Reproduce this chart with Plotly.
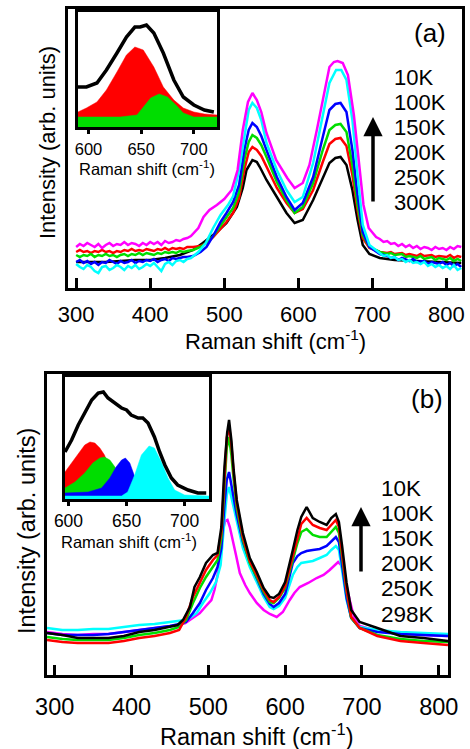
import plotly.graph_objects as go

# ---------------- Panel (a) data (arb. units) ----------------
a_x_10K = list(range(300, 460, 5)) + [465,472,480,490,500,510,518,525,532,538,544,550,557,570,585,595,606,615,625,633,642,648,653,660,667,675,682,688,695] + list(range(705, 825, 5))
a_y_10K = [53,56,54,57,55,53,56,52,55,57,54,56,55,58,55,57,56,54,57,55,58,56,58,55,59,57,58,60,59,61,62,64,
           72,83,90,95,101,110,130,170,198,207,200,188,167,140,122,112,117,135,170,200,233,238,239,237,225,185,135,95,72,
           63,61,58,59,56,57,54,56,53,55,52,54,51,53,52,50,53,51,52,50,53,51,54,53]

a_x_100K = list(range(300, 460, 5)) + [465,475,485,495,505,512,520,527,533,538,544,550,557,571,584,595,606,620,633,642,651,658,665,673,680,687,696] + list(range(710, 825, 5))
a_y_100K = [36,33,31,35,33,29,27,33,34,30,32,35,33,30,34,32,35,31,33,36,34,37,33,29,36,38,35,39,40,38,41,42,
            48,57,72,85,95,104,130,165,190,197,192,180,157,130,110,98,103,137,183,217,230,230,220,180,125,75,55,
            47,44,45,42,43,40,41,38,40,37,38,36,38,34,36,33,35,32,34,31,35,30,32]

a_x_150K = list(range(300, 455, 5)) + [458,468,476,485,495,503,512,520,527,533,538,544,550,557,571,584,595,606,620,633,642,650,657,665,673,680,687,696] + [710,720,725,730,735,740,750,755,760,770,775,780,790,795,800,805,810,815,820]
a_y_150K = [38,40,37,39,36,38,35,38,37,40,38,36,39,37,38,40,37,39,38,40,39,41,38,40,41,39,42,41,42,43,43,
            44,48,53,64,78,87,98,115,150,170,177,173,164,150,123,103,90,97,123,163,190,196,197,188,150,105,68,53,
            46,44,42,43,40,42,39,41,38,39,36,38,36,38,35,37,34,36,33]

a_x_200K = list(range(300, 455, 5)) + [458,468,476,485,495,503,512,520,527,533,538,544,550,557,571,584,595,606,620,633,642,650,657,665,673,680,687,696] + [710,720,725,730,740,745,750,760,765,770,780,785,790,800,805,810,815,820]
a_y_200K = [45,43,45,44,46,43,45,44,46,44,45,43,45,46,44,46,45,47,45,47,46,45,47,46,48,47,48,47,49,48,49,
            50,53,57,64,74,82,92,108,140,158,165,162,155,143,118,100,87,93,117,150,170,175,176,168,135,95,65,53,
            48,46,47,45,46,43,44,42,44,41,43,40,42,40,42,39,41,39]

a_x_250K = list(range(300, 455, 5)) + [458,468,476,485,495,503,512,520,527,533,538,544,550,557,571,584,595,606,620,633,642,650,657,665,673,680,687,696] + [710,720,725,730,740,745,750,760,765,770,780,785,790,800,805,810,815,820]
a_y_250K = [48,50,48,49,47,49,48,50,48,49,47,49,48,50,49,51,49,50,49,51,50,49,51,50,52,50,52,51,52,51,53,
            53,54,57,63,71,78,87,102,130,148,153,150,144,133,112,97,87,91,110,138,156,161,162,154,125,90,62,52,
            48,47,48,46,47,45,46,44,46,44,45,43,44,43,45,42,44,43]

a_x_300K = [300,320,340,360,380,400,420,440,458,471,480,490,503,517,525,530,538,544,548,557,571,584,595,606,620,633,642,650,657,665,673,680,687,696,710,730,760,790,820]
a_y_300K = [38,38,38,39,40,40,42,45,50,57,62,68,77,93,112,130,140,138,133,120,103,87,77,80,100,123,137,142,143,135,110,80,55,46,42,40,39,38,37]

# inset (a): fitted components and measured spectrum
ia_x_red = [590,598,608,617,627,636,644,652,662,671,681,690,700,710,722]
ia_y_red = [18,22,28,40,58,75,83,80,63,43,30,22,18,16,15]
ia_x_green = [590,610,630,646,652,659,667,675,683,690,700,722]
ia_y_green = [13,13,13,15,23,32,36,33,25,17,13,13]
ia_x_black = [590,598,608,617,627,636,644,649,655,662,671,681,690,700,710,719]
ia_y_black = [43,43,47,60,77,93,103,103,105,97,77,50,33,25,20,18]

# ---------------- Panel (b) data (arb. units) ----------------
b_x_k = [290,310,330,350,370,390,410,430,450,460,467,476,482,489,497,506,512,517,521,524.5,527,530,533,537,545,554,563,572,580,585,592,600,610,616,621,628,636,645,654,660,666,670,674,680,686,697,720,750,780,812]
b_y_k = [67,65,62,62,62,64,68,70,73,75,80,93,113,123,137,145,147,173,233,267,280,260,230,200,167,142,128,112,103,102,106,118,150,170,183,193,182,178,175,182,186,178,155,117,90,78,72,64,62,59]

b_x_r = [290,310,330,350,370,390,410,430,450,462,471,480,489,497,506,512,517,521,524,527,530,533,537,545,554,563,572,580,585,592,600,610,616,621,628,636,645,654,660,666,670,674,680,686,697,720,750,780,812]
b_y_r = [60,58,57,57,57,59,62,64,67,70,83,103,118,130,140,145,168,225,262,274,255,227,197,163,139,125,110,100,98,103,114,144,163,176,182,175,172,170,175,180,173,150,110,83,72,64,59,57,55]

b_x_g = [290,310,330,350,370,390,410,430,450,462,471,480,489,497,506,512,517,521,524,527,530,533,537,545,554,563,572,580,585,592,600,610,616,621,628,636,645,654,660,666,670,674,680,686,697,720,750,780,812]
b_y_g = [63,61,60,60,60,62,65,67,70,73,80,97,112,123,133,140,162,215,252,263,245,220,192,160,137,123,108,98,97,102,112,140,157,168,171,165,163,163,168,173,167,145,108,82,72,65,61,59,58]

b_x_b = [290,310,330,350,370,390,410,430,450,462,471,480,489,497,506,512,517,521,524,527,530,533,537,545,554,563,572,580,585,592,600,610,616,621,628,636,645,654,660,666,670,674,680,686,697,720,750,780,812]
b_y_b = [67,65,65,65,66,68,70,72,74,76,78,87,97,110,122,133,152,195,220,228,215,200,185,158,138,122,106,96,93,97,106,137,144,147,149,150,151,154,159,163,158,135,102,82,72,68,66,65,64]

b_x_c = [290,310,330,350,370,390,410,430,450,462,470,476,485,493,502,510,516,521,524,527,530,533,537,545,554,563,572,580,585,592,600,610,616,621,628,636,645,654,660,666,670,674,680,686,697,720,750,780,812]
b_y_c = [72,70,70,71,71,73,75,76,78,79,80,82,87,97,107,118,135,180,205,213,203,190,178,152,133,118,103,93,91,94,102,125,133,137,138,139,142,145,150,154,150,130,100,82,73,70,68,67,66]

b_x_m = [290,310,330,350,370,390,410,430,450,462,470,480,489,497,504,508,512,516,519,522,525,528,532,536,541,548,554,563,572,580,589,597,606,612,619,630,641,650,658,664,669,673,677,684,690,697,720,750,780,812]
b_y_m = [68,66,65,66,66,68,70,72,74,75,77,82,87,94,100,110,125,150,170,179,180,173,160,145,127,115,107,97,90,86,83,88,100,107,113,117,122,125,130,134,138,135,125,100,82,74,69,67,65,64]

# inset (b): fitted components and measured spectrum
ib_x_red = [597,602.7,608.4,614,618.5,622.7,627,631,636,642,650,660]
ib_y_red = [28,37,47,55,58,57,52,45,30,15,5,2]
ib_x_green = [597,605.6,614,621,627,631,635.6,640,644,650,660,670]
ib_y_green = [12,18,27,37,42,43,40,33,25,15,5,2]
ib_x_blue = [597,617,628.5,635.6,641,645.7,649,652.8,655.6,658.5,665,675]
ib_y_blue = [7,8,12,22,33,40,42,37,28,18,8,4]
ib_x_cyan = [597,645.7,651,657,662.8,669.4,674,680,685.7,691.4,700,721]
ib_y_cyan = [4,4,8,25,45,54,52,38,22,10,5,4]
ib_x_black = [597,602.7,608.4,614,620,625.6,630,634,640,645.7,650,654,660,664,668.5,674,678.5,683,688.6,694,703,711.4,718.6]
ib_y_black = [48,60,75,88,100,107,108,102,97,92,90,85,82,82,77,63,48,35,22,15,10,7,7]

temps_a = ["10K", "100K", "150K", "200K", "250K", "300K"]
temps_b = ["10K", "100K", "150K", "200K", "250K", "298K"]
main_ticks = [300, 400, 500, 600, 700, 800]
inset_ticks = [600, 650, 700]

# ---------------- styling ----------------
W, H = 470, 749
FONT = "Liberation Sans, Arial, sans-serif"
BLACK, RED, GREEN, BLUE, CYAN, MAGENTA = "#000000", "#ff0000", "#00dd00", "#0000ff", "#00ffff", "#ff00ff"


def px(x):
    return x / W


def py(y):
    return 1 - y / H


fig = go.Figure()


def line(x, y, color, xa, ya, width=2.5):
    fig.add_trace(go.Scatter(x=x, y=y, mode="lines", line=dict(color=color, width=width),
                             xaxis=xa, yaxis=ya, showlegend=False, hoverinfo="skip"))


def area(x, y, color, xa, ya):
    fig.add_trace(go.Scatter(x=x, y=y, mode="lines", fill="tozeroy", fillcolor=color,
                             line=dict(color=color, width=0.5), xaxis=xa, yaxis=ya,
                             showlegend=False, hoverinfo="skip"))


# panel (a)
for xs, ys, c in [(a_x_300K, a_y_300K, BLACK), (a_x_250K, a_y_250K, RED), (a_x_200K, a_y_200K, GREEN),
                  (a_x_150K, a_y_150K, BLUE), (a_x_100K, a_y_100K, CYAN), (a_x_10K, a_y_10K, MAGENTA)]:
    line(xs, ys, c, "x", "y")
area(ia_x_red, ia_y_red, RED, "x2", "y2")
area(ia_x_green, ia_y_green, GREEN, "x2", "y2")
line(ia_x_black, ia_y_black, BLACK, "x2", "y2", width=3.5)

# panel (b)
for xs, ys, c in [(b_x_m, b_y_m, MAGENTA), (b_x_c, b_y_c, CYAN), (b_x_b, b_y_b, BLUE),
                  (b_x_g, b_y_g, GREEN), (b_x_r, b_y_r, RED), (b_x_k, b_y_k, BLACK)]:
    line(xs, ys, c, "x3", "y3")
area(ib_x_red, ib_y_red, RED, "x4", "y4")
area(ib_x_green, ib_y_green, GREEN, "x4", "y4")
area(ib_x_blue, ib_y_blue, BLUE, "x4", "y4")
area(ib_x_cyan, ib_y_cyan, CYAN, "x4", "y4")
line(ib_x_black, ib_y_black, BLACK, "x4", "y4", width=3.5)


def xax(rng, dom, anchor, tickvals, fsize, inset=False, standoff=6):
    return dict(range=rng, domain=dom, anchor=anchor, showline=True, linewidth=3, linecolor=BLACK,
                mirror=True, ticks="outside" if inset else "inside", ticklen=4 if inset else 10,
                tickwidth=3, tickcolor=BLACK, tickvals=tickvals, showgrid=False, zeroline=False,
                tickfont=dict(family=FONT, size=fsize, color=BLACK), ticklabelstandoff=standoff,
                automargin=False, fixedrange=True)


def yax(rng, dom, anchor):
    return dict(range=rng, domain=dom, anchor=anchor, showline=True, linewidth=3, linecolor=BLACK,
                mirror=True, ticks="", showticklabels=False, showgrid=False, zeroline=False,
                automargin=False, fixedrange=True)


fig.update_layout(
    template="none",
    width=W, height=H, autosize=False, margin=dict(l=0, r=0, t=0, b=0, pad=0),
    paper_bgcolor="white", plot_bgcolor="rgba(0,0,0,0)", showlegend=False,
    xaxis=xax([289, 821], [px(68), px(462)], "y", main_ticks, 22, standoff=5),
    yaxis=yax([12, 291], [py(288), py(9)], "x"),
    xaxis2=xax([590, 722], [px(78), px(217)], "y2", inset_ticks, 16.5, inset=True, standoff=1),
    yaxis2=yax([3, 118], [py(127), py(12)], "x2"),
    xaxis3=xax([290, 812], [px(47), px(448)], "y3", main_ticks, 23.5, standoff=9),
    yaxis3=yax([25, 326], [py(675), py(374)], "x3"),
    xaxis4=xax([597, 721], [px(65), px(209)], "y4", inset_ticks, 17.5, inset=True, standoff=0),
    yaxis4=yax([1, 123], [py(499), py(377)], "x4"),
)


def note(text, x, y, size, xanchor="center", angle=0):
    fig.add_annotation(text=text, x=px(x), y=py(y), xref="paper", yref="paper", showarrow=False,
                       xanchor=xanchor, yanchor="middle", textangle=angle,
                       font=dict(family=FONT, size=size, color=BLACK))


XT = "Raman shift (cm<sup>-1</sup>)"
YT = "Intensity (arb. units)"
# panel (a) texts
note(XT, 275, 340, 22)
note(YT, 47, 143, 22, angle=-90)
note(XT, 147, 167.5, 16.5)
note("(a)", 430, 33, 26)
for i, t in enumerate(temps_a):
    note(t, 392, 77 + i * 25.2, 22, xanchor="left")
# panel (b) texts
note(XT, 257, 735, 23.5)
note(YT, 27, 531, 23.5, angle=-90)
note(XT, 129, 541, 16.5)
note("(b)", 427, 399, 26)
for i, t in enumerate(temps_b):
    note(t, 379, 488 + i * 25.2, 22.5, xanchor="left")

# temperature arrows
for xa, head, tail in [(373, 117, 203), (361, 507, 573)]:
    fig.add_annotation(x=px(xa), y=py(head), xref="paper", yref="paper", ax=0, ay=tail - head,
                       axref="pixel", ayref="pixel", text="", showarrow=True, arrowhead=2,
                       arrowsize=1.1, arrowwidth=3.5, arrowcolor=BLACK)

fig.write_html("out.html")
